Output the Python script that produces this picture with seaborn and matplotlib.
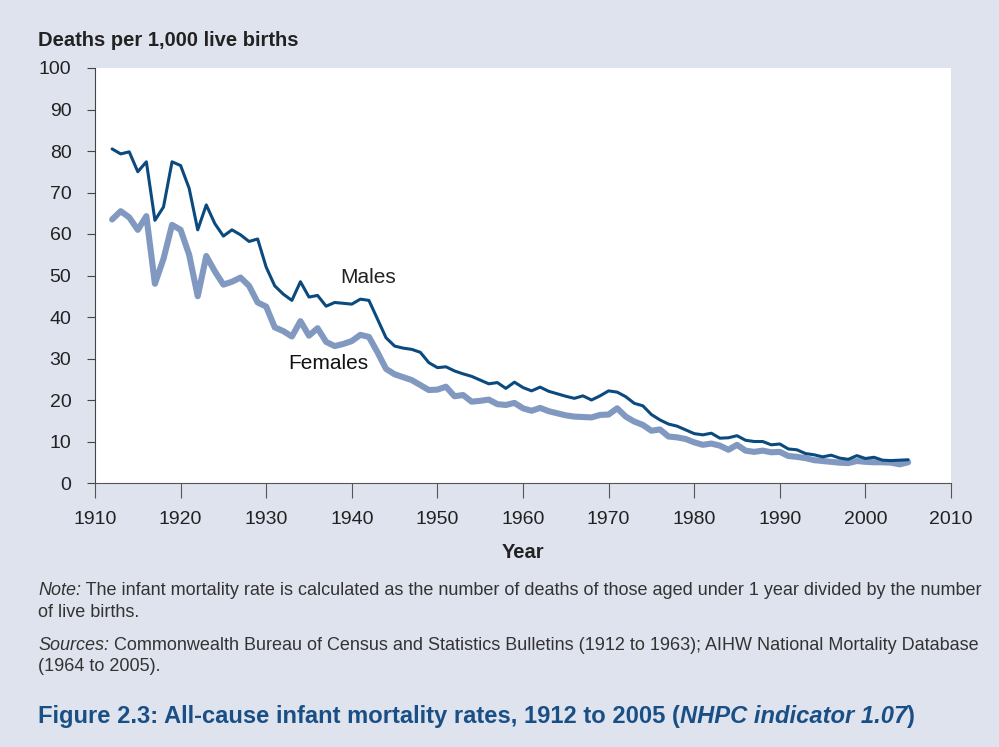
import numpy as np
import pandas as pd
import seaborn as sns
import matplotlib.pyplot as plt
from matplotlib.transforms import offset_copy

years = list(range(1912, 2006))

males = [80.5, 79.3, 79.8, 75.0, 77.4, 63.3, 66.5, 77.4, 76.5, 71.0,
         61.0, 67.0, 62.5, 59.5, 61.0, 59.8, 58.2, 58.8, 52.0, 47.5,
         45.5, 44.0, 48.5, 44.8, 45.2, 42.6, 43.5, 43.3, 43.1, 44.3,
         44.0, 39.5, 35.0, 33.0, 32.5, 32.2, 31.5, 29.0, 27.8, 28.0,
         27.0, 26.3, 25.7, 24.8, 23.9, 24.2, 22.8, 24.3, 23.0, 22.2,
         23.1, 22.1, 21.5, 20.9, 20.4, 21.0, 20.0, 21.0, 22.2, 21.9,
         20.8, 19.2, 18.6, 16.5, 15.2, 14.2, 13.7, 12.8, 11.9, 11.6,
         12.0, 10.8, 10.9, 11.4, 10.3, 10.0, 10.0, 9.2, 9.4, 8.2,
         8.0, 7.1, 6.8, 6.3, 6.7, 6.0, 5.7, 6.6, 5.9, 6.2,
         5.5, 5.4, 5.5, 5.6]

females = [63.5, 65.5, 64.0, 61.0, 64.3, 48.0, 54.0, 62.2, 61.0, 55.0,
           45.0, 54.7, 51.0, 47.8, 48.5, 49.5, 47.5, 43.5, 42.5, 37.5,
           36.6, 35.3, 39.0, 35.5, 37.3, 34.0, 33.0, 33.5, 34.2, 35.7,
           35.2, 31.5, 27.5, 26.2, 25.5, 24.8, 23.6, 22.4, 22.5, 23.2,
           20.9, 21.2, 19.6, 19.8, 20.1, 19.0, 18.8, 19.3, 18.0, 17.4,
           18.1, 17.3, 16.8, 16.3, 16.0, 15.9, 15.8, 16.4, 16.5, 18.0,
           16.0, 14.8, 14.0, 12.6, 12.9, 11.2, 11.0, 10.6, 9.8, 9.2,
           9.5, 9.0, 8.0, 9.2, 7.8, 7.5, 7.8, 7.4, 7.5, 6.5,
           6.3, 6.0, 5.5, 5.3, 5.1, 4.9, 4.8, 5.3, 5.1, 5.0,
           5.0, 4.9, 4.5, 5.0]

x_ticks = list(range(1910, 2011, 10))
y_ticks = list(range(0, 101, 10))

df = pd.DataFrame({'Year': years, 'Males': males, 'Females': females})

sns.set_style('white')
plt.rcParams['font.family'] = ['Liberation Sans', 'DejaVu Sans']

bg = '#dee3ee'
fig = plt.figure(figsize=(9.99, 7.47), dpi=100, facecolor=bg)
ax = fig.add_axes([95 / 999, 1 - 483 / 747, (951 - 95) / 999, (483 - 68) / 747])
ax.set_facecolor('white')

sns.lineplot(data=df, x='Year', y='Females', ax=ax, color='#8199c1', linewidth=4.4)
sns.lineplot(data=df, x='Year', y='Males', ax=ax, color='#0b4a7e', linewidth=2.2)

ax.set_xlim(1910, 2010)
ax.set_ylim(0, 100)
ax.set_xticks(x_ticks)
ax.set_yticks(y_ticks)
ax.set_xlabel('Year', fontsize=14.5, fontweight='bold', color='#222222', labelpad=11)
ax.set_ylabel('')
for s in ['top', 'right']:
    ax.spines[s].set_visible(False)
ax.spines['left'].set_color('#444444')
ax.spines['bottom'].set_color('#555555')
ax.tick_params(axis='y', direction='out', length=6, color='#444444', labelsize=14,
               labelcolor='#222222', pad=11, left=True)
ax.tick_params(axis='x', direction='out', length=11, color='#555555', labelsize=14,
               labelcolor='#222222', pad=9, bottom=True)

ax.text(1941.9, 49.4, 'Males', fontsize=15, color='#222222', ha='center', va='center')
ax.text(1937.2, 28.7, 'Females', fontsize=15, color='#111111', ha='center', va='center')

fig.text(38 / 999, 1 - 40 / 747, 'Deaths per 1,000 live births', fontsize=14.5,
         fontweight='bold', color='#222222', va='center')

renderer = fig.canvas.get_renderer()


def text_run(x, y, parts, **kw):
    # consecutive pieces with different styles on one baseline
    t = fig.text(x, y, parts[0][0], va='baseline', **parts[0][1], **kw)
    for s, style in parts[1:]:
        w = t.get_window_extent(renderer=renderer).width
        tr = offset_copy(t.get_transform(), fig=fig, x=w, units='dots')
        t = fig.text(t.get_position()[0], t.get_position()[1], s, transform=tr,
                     va='baseline', **style, **kw)
    return t


note_c = '#333333'
nfs = 12.95
text_run(38 / 999, 1 - 595 / 747,
         [('Note:', {'style': 'italic'}),
          (' The infant mortality rate is calculated as the number of deaths of those aged under 1 year divided by the number', {})],
         fontsize=nfs, color=note_c)
fig.text(38 / 999, 1 - 617 / 747, 'of live births.', fontsize=nfs, color=note_c, va='baseline')
text_run(38 / 999, 1 - 650 / 747,
         [('Sources:', {'style': 'italic'}),
          (' Commonwealth Bureau of Census and Statistics Bulletins (1912 to 1963); AIHW National Mortality Database', {})],
         fontsize=nfs, color=note_c)
fig.text(38 / 999, 1 - 671 / 747, '(1964 to 2005).', fontsize=nfs, color=note_c, va='baseline')

text_run(38 / 999, 1 - 723 / 747,
         [('Figure 2.3: All-cause infant mortality rates, 1912 to 2005 (', {}),
          ('NHPC indicator 1.07', {'style': 'italic'}),
          (')', {})],
         fontsize=17.1, fontweight='bold', color='#1a4f86')

fig.savefig('out.png', dpi=100, facecolor=bg)
